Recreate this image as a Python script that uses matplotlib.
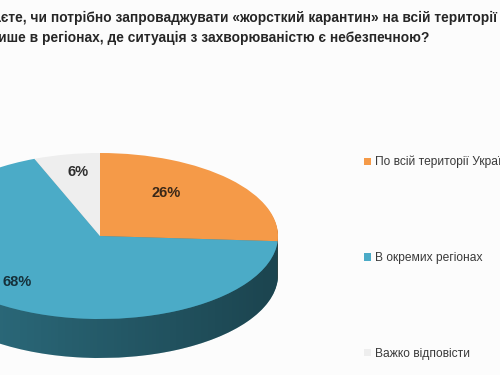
import matplotlib
matplotlib.use("Agg")
import matplotlib.pyplot as plt
import numpy as np
from matplotlib import font_manager as fm
from matplotlib.path import Path
from matplotlib.patches import PathPatch

# ---------------- data ----------------
categories = ["По всій території України", "В окремих регіонах", "Важко відповісти"]
values = [26, 68, 6]
top_colors = ["#F59A48", "#4BABC7", "#EEEEEE"]
side_colors = ["#B86B2C", "#2E7183", "#B9B9B9"]
label_colors = ["#3A2818", "#15303A", "#2E2E2E"]
title_line1 = "Як Ви вважаєте, чи потрібно запроваджувати «жорсткий карантин» на всій території України,"
title_line2 = "чи лише в регіонах, де ситуація з захворюваністю є небезпечною?"

# ---------------- fonts ----------------
def pick(names):
    for n in names:
        try:
            fm.findfont(fm.FontProperties(family=n), fallback_to_default=False)
            return n
        except Exception:
            pass
    return "DejaVu Sans"

narrow = pick(["Liberation Sans Narrow", "Liberation Sans", "DejaVu Sans"])
regular = pick(["Liberation Sans", "DejaVu Sans"])

W, H = 500, 375
fig = plt.figure(figsize=(5, 3.75), dpi=100)
fig.patch.set_facecolor("#FCFCFC")
ax = fig.add_axes([0, 0, 1, 1])

# layout (pixels)
cx_px, cy_px, rx_px, ry_px, depth_px = 100, 236, 178, 83, 39
depth = depth_px / ry_px

# extruded side: stacked pies
nlayers = 40
for k in range(nlayers, 0, -1):
    off = -depth * k / nlayers
    ax.pie(values, colors=side_colors, startangle=90, counterclock=False,
           center=(0, off), radius=1, wedgeprops=dict(linewidth=0))

# side shading gradient (darker to the right)
t = np.linspace(np.pi, 2 * np.pi, 200)
upper = np.column_stack([np.cos(t), np.sin(t)])
lower = np.column_stack([np.cos(t[::-1]), np.sin(t[::-1]) - depth])
band = np.vstack([upper, lower, upper[:1]])
band_patch = PathPatch(Path(band), facecolor="none", edgecolor="none")
ax.add_patch(band_patch)
grad = np.zeros((1, 256, 4))
grad[..., 3] = np.linspace(0.0, 0.40, 256)
im = ax.imshow(grad, extent=(-1, 1, -1 - depth, 0), aspect="auto", zorder=2,
               interpolation="bilinear")
im.set_clip_path(band_patch)

# top surface
wedges, _, autotexts = ax.pie(values, colors=top_colors, startangle=90, counterclock=False,
                              radius=1, autopct="%d%%", pctdistance=0.7,
                              wedgeprops=dict(linewidth=0),
                              textprops=dict(fontsize=10.5, fontweight="bold", family=regular))
for w in wedges:
    w.set_zorder(3)
label_xy = [(0.371, 0.524), (-0.466, -0.549), (-0.124, 0.768)]
for txt, xy, c in zip(autotexts, label_xy, label_colors):
    txt.set_position(xy)
    txt.set_color(c)
    txt.set_zorder(5)

ax.set_aspect("auto")
ax.set_xlim(-cx_px / rx_px, (W - cx_px) / rx_px)
ax.set_ylim(-(H - cy_px) / ry_px, cy_px / ry_px)
ax.axis("off")

# ---------------- title ----------------
renderer = fig.canvas.get_renderer()

def twidth(s, size, family, weight="normal"):
    tt = fig.text(0, 0, s, fontsize=size, family=family, fontweight=weight)
    w = tt.get_window_extent(renderer).width
    tt.remove()
    return w

sub1 = "те, чи потрібно запроваджувати «жорсткий карантин» на всій території"
fs_title = 10 * 485 / twidth(sub1, 10, narrow, "bold")
pre1 = "Як Ви вважає"
x1 = 8 - twidth(pre1 + "т", fs_title, narrow, "bold") + twidth("т", fs_title, narrow, "bold")
pre2 = "чи ли"
x2 = 7 - twidth(pre2 + "ш", fs_title, narrow, "bold") + twidth("ш", fs_title, narrow, "bold")
fig.text(x1 / W, 1 - 22 / H, title_line1, fontsize=fs_title, family=narrow,
         fontweight="bold", color="#262626", va="baseline", ha="left")
fig.text(x2 / W, 1 - 42 / H, title_line2, fontsize=fs_title, family=narrow,
         fontweight="bold", color="#262626", va="baseline", ha="left")

# ---------------- legend ----------------
fs_leg = 10 * 108 / twidth("В окремих регіонах", 10, narrow)
leg = fig.legend(wedges, categories, loc="upper left",
                 bbox_to_anchor=(364 / W, 1 - 156 / H), frameon=False,
                 prop=dict(family=narrow, size=fs_leg),
                 handlelength=0.55, handleheight=0.55, handletextpad=0.35,
                 labelspacing=6.95, borderpad=0, borderaxespad=0)
for tx in leg.get_texts():
    tx.set_color("#3A3A3A")

fig.savefig("out.png", dpi=100, facecolor=fig.get_facecolor())
print(narrow, regular, fs_title, fs_leg)
